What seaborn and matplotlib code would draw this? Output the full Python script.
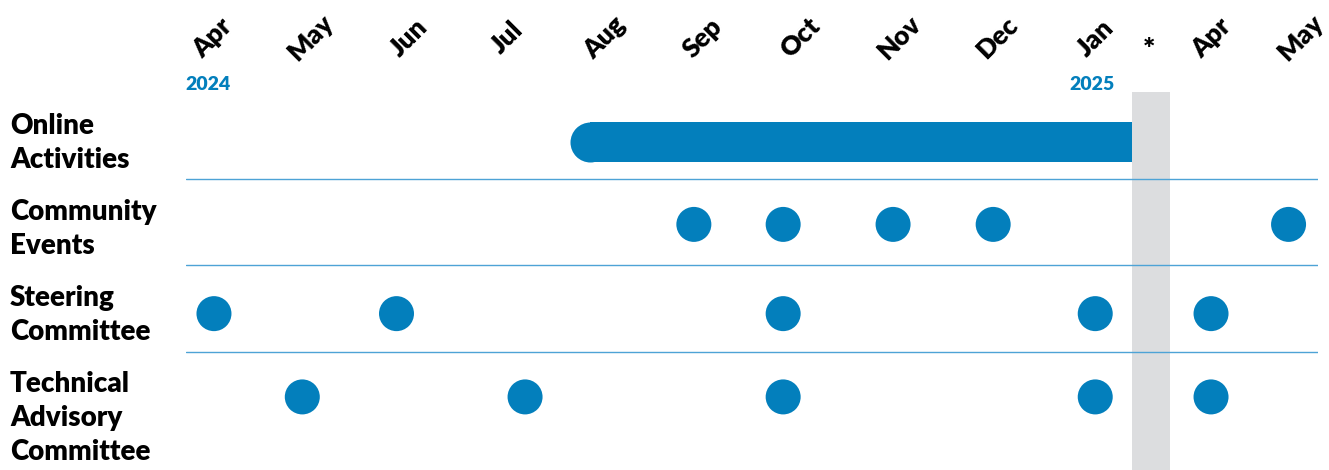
import matplotlib
matplotlib.use("Agg")
import matplotlib.pyplot as plt
import matplotlib.transforms as mtransforms
import seaborn as sns
import pandas as pd

# ---------------- data ----------------
row_labels = ["Online\nActivities", "Community\nEvents", "Steering\nCommittee",
              "Technical\nAdvisory\nCommittee"]
month_labels = ["Apr", "May", "Jun", "Jul", "Aug", "Sep", "Oct", "Nov", "Dec",
                "Jan", "*", "Apr", "May"]
month_pos = [0, 1, 2, 3, 4, 5, 6, 7, 8, 9, 9.55, 10.18, 11.09]
year_labels = ["2024", "2025"]
year_pos = [-0.04, 8.97]

online_start = 3.65
online_end = 9.37
community_events = [4.91, 5.82, 6.94, 7.96, 10.97]
steering_committee = [0.02, 1.88, 5.82, 9.0, 10.18]
technical_committee = [0.92, 3.19, 5.82, 9.0, 10.18]
gap_start, gap_end = 9.37, 9.76

# ---------------- style ----------------
BLUE = "#037fbc"
LINE = "#4da3d6"
GREY = "#dcdddf"

sns.set_theme(style="white")
plt.rcParams["font.family"] = ["Lato", "DejaVu Sans"]

W, H = 1329, 470
fig = plt.figure(figsize=(W / 100, H / 100), dpi=100)
ax = fig.add_axes([186 / W, 0, (1318 - 186) / W, (470 - 92) / H])

ax.set_xlim(-0.265, 11.27)
ax.set_ylim(3.86, -0.588)

# gap band
ax.axvspan(gap_start, gap_end, color=GREY, zorder=0, lw=0)

# separators
separators = [0.44, 1.45, 2.47]
for y in separators:
    ax.axhline(y, color=LINE, lw=1.0, zorder=2)

# online activities bar with rounded left end
radius = 0.204
ax.barh(0, online_end - (online_start + radius), left=online_start + radius,
        height=0.47, color=BLUE, lw=0, zorder=3)
ax.scatter([online_start + radius], [0], s=(40 * 0.72) ** 2, color=BLUE,
           lw=0, zorder=3)

# events
df = pd.DataFrame({
    "pos": community_events + steering_committee + technical_committee,
    "row": [0.97] * len(community_events) + [2.02] * len(steering_committee)
           + [3] * len(technical_committee),
})
sns.scatterplot(data=df, x="pos", y="row", s=(35 * 0.72) ** 2, color=BLUE,
                edgecolor="none", linewidth=0, legend=False, ax=ax, zorder=4)

ax.set_xticks([])
ax.set_yticks([])
ax.set_xlabel("")
ax.set_ylabel("")
for s in ax.spines.values():
    s.set_visible(False)

# month labels
trans = mtransforms.blended_transform_factory(ax.transData, fig.transFigure)
for lab, p in zip(month_labels, month_pos):
    if lab == "*":
        ax.text(p, 1 - 50 / H, lab, transform=trans, ha="center", va="center",
                fontsize=21, fontweight="heavy", color="black")
    else:
        ax.text(p, 1 - 38 / H, lab, transform=trans, ha="center", va="center",
                rotation=45, fontsize=19, fontweight="heavy", color="black")

for lab, p in zip(year_labels, year_pos):
    ax.text(p, 1 - 84 / H, lab, transform=trans, ha="center", va="center",
            fontsize=14, fontweight="heavy", color=BLUE)

# row labels
trans_y = mtransforms.blended_transform_factory(fig.transFigure, ax.transData)
label_tops = [-0.34] + [s + 0.23 for s in separators]
for lab, top in zip(row_labels, label_tops):
    ax.text(10 / W, top, lab, transform=trans_y, ha="left", va="top",
            fontsize=20, fontweight="heavy", color="black", linespacing=1.38)

fig.savefig("out.png", dpi=100)
